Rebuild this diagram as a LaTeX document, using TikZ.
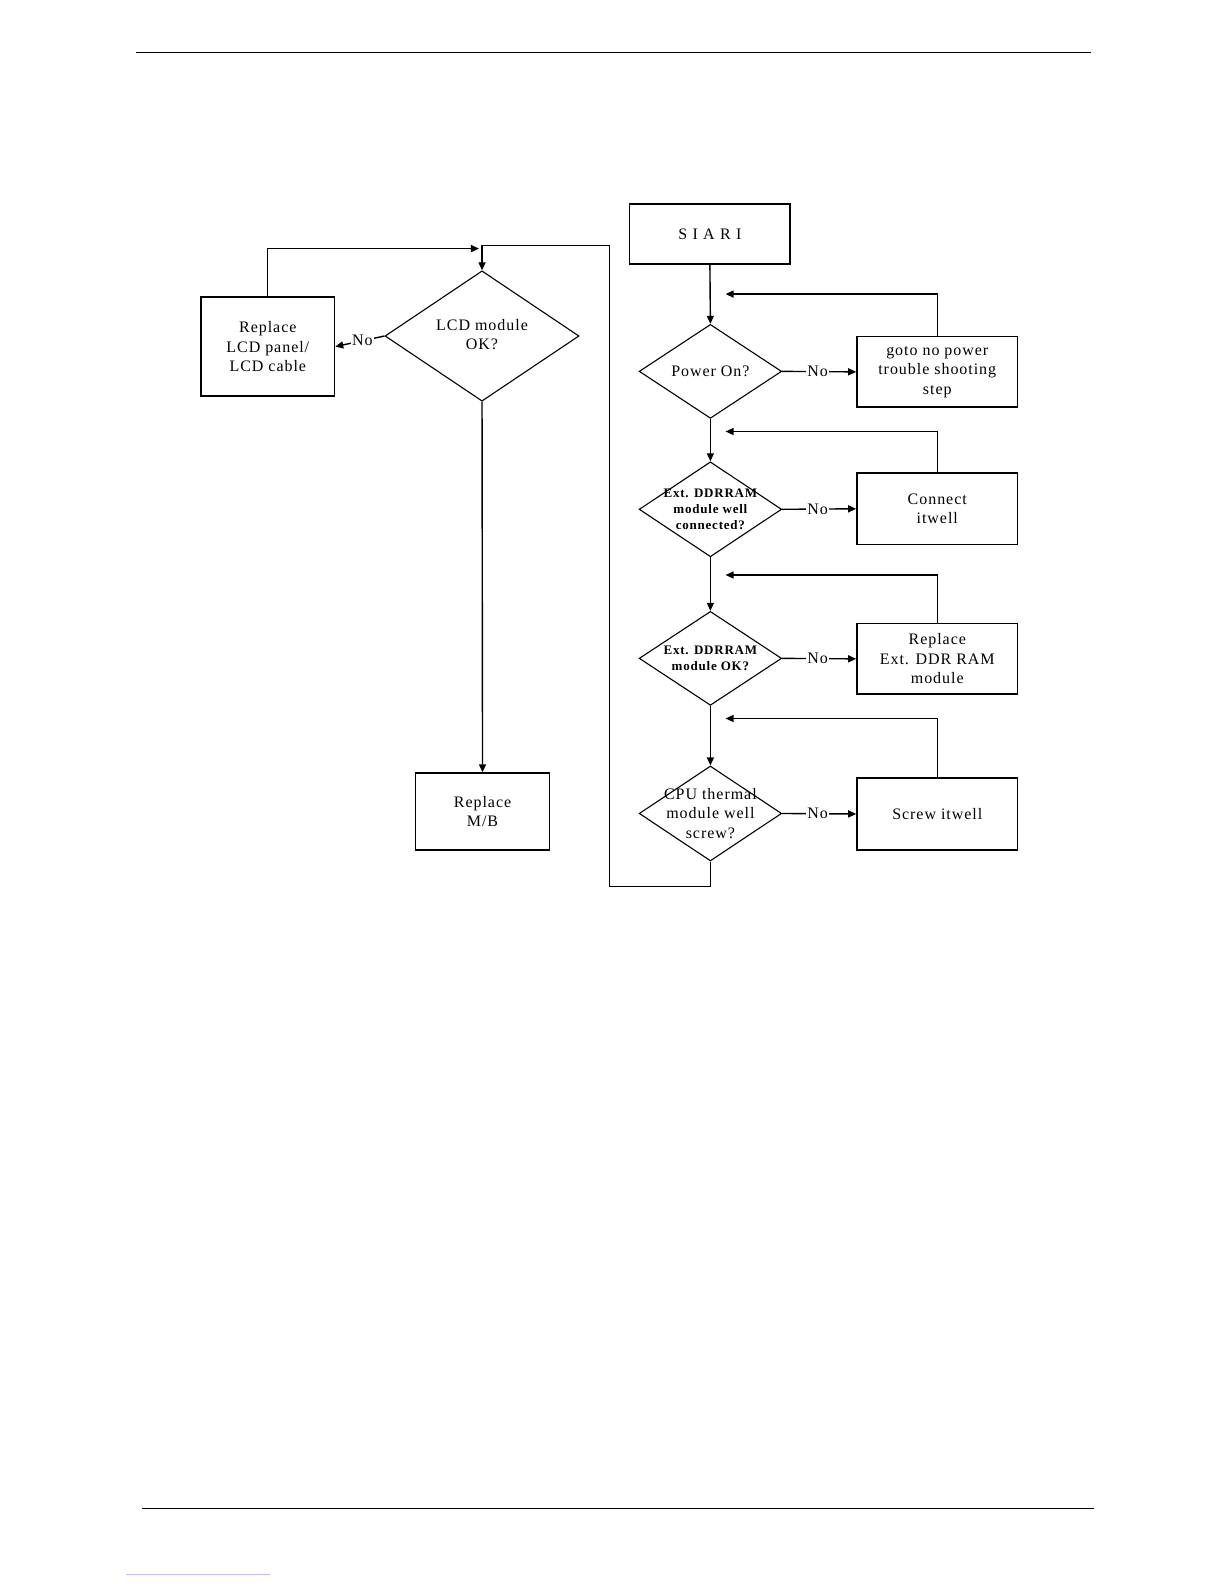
\documentclass[tikz,border=0pt]{standalone}
\usepackage{fontspec}
\setmainfont{Liberation Serif}[LetterSpace=6]
\newfontfamily\plainserif{Liberation Serif}
\usetikzlibrary{shapes.geometric,arrows.meta}
\def\sc{1.0105}
\begin{document}
\begin{tikzpicture}[x=1.0105pt,y=-1.0105pt,
  box/.style={draw,line width=1.5pt,rectangle,inner sep=0pt,align=center,font=\fontsize{16}{19.5}\selectfont},
  dia/.style={draw,line width=1.1pt,diamond,inner sep=0pt},
  dtext/.style={align=center,font=\fontsize{16}{19.5}\selectfont},
  stext/.style={align=center,font=\fontsize{13}{16}\selectfont\bfseries},
  con/.style={line width=1.4pt},
  arr/.style={con,-{Triangle[length=8pt,width=7pt]}},
  nolab/.style={fill=white,inner sep=1pt,font=\fontsize{16}{18}\selectfont}]
\useasboundingbox (0,0) rectangle (1211.3,1567.5);
\fill[white] (0,0) rectangle (1211.3,1567.5);
% header/footer rules
\coordinate (h1) at (135,52); \coordinate (h2) at (1080,52);
\draw[line width=1.4pt] (h1) -- (h2);
\coordinate (f1) at (141,1493); \coordinate (f2) at (1083,1493);
\draw[line width=1.4pt] (f1) -- (f2);
\coordinate (b1) at (125,1558); \coordinate (b2) at (267,1558);
\draw[line width=0.6pt,blue!25] (b1) -- (b2);

% right column
\node[box,minimum width=\sc*159pt,minimum height=\sc*59pt] (start) at (702.5,231.5) {S\,\,I\,\,A\,\,R\,\,I};
\node[dia,minimum width=\sc*141pt,minimum height=\sc*93pt] (d1) at (703,367.5) {};
\node[dtext] at (d1) {Power On?};
\node[box,minimum width=\sc*159pt,minimum height=\sc*70pt] (b1x) at (927.5,368) {goto no power\\trouble shooting\\step};

\node[dia,minimum width=\sc*141pt,minimum height=\sc*94pt] (d2) at (703,504) {};
\node[stext] at (d2) {Ext. DDRRAM\\module well\\connected?};
\node[box,minimum width=\sc*159pt,minimum height=\sc*71pt] (b2x) at (927.5,503.5) {Connect\\itwell};

\node[dia,minimum width=\sc*141pt,minimum height=\sc*93pt] (d3) at (703,651.5) {};
\node[stext] at (d3) {Ext. DDRRAM\\module OK?};
\node[box,minimum width=\sc*159pt,minimum height=\sc*70pt] (b3x) at (927.5,652) {Replace\\Ext. DDR RAM\\module};

\node[dia,minimum width=\sc*141pt,minimum height=\sc*94pt] (d4) at (703,805) {};
\node[dtext] at (d4) {CPU thermal\\module well\\screw?};
\node[box,minimum width=\sc*159pt,minimum height=\sc*71pt] (b4x) at (927.5,805.5) {Screw itwell};

% left column
\node[dia,minimum width=\sc*192pt,minimum height=\sc*129pt] (lcd) at (477,332.5) {};
\node[dtext] at (477,331) {LCD module\\OK?};
\node[box,minimum width=\sc*132pt,minimum height=\sc*98pt] (rlcd) at (265,343) {Replace\\LCD panel/\\LCD cable};
\node[box,minimum width=\sc*133pt,minimum height=\sc*76pt] (mb) at (477.5,803) {Replace\\M/B};

% main flow
\draw[arr] (start.south) -- (d1.north);
\draw[arr] (d1.south) -- (d2.north);
\draw[arr] (d2.south) -- (d3.north);
\draw[arr] (d3.south) -- (d4.north);

% No branches
\draw[arr] (d1.east) -- node[nolab,pos=0.48]{No} (b1x.west);
\draw[arr] (d2.east) -- node[nolab,pos=0.48]{No} (b2x.west);
\draw[arr] (d3.east) -- node[nolab,pos=0.48]{No} (b3x.west);
\draw[arr] (d4.east) -- node[nolab,pos=0.48]{No} (b4x.west);

% returns
\coordinate (r1) at (718,291);
\draw[arr] (b1x.north) |- (r1);
\coordinate (r2) at (718,427);
\draw[arr] (b2x.north) |- (r2);
\coordinate (r3) at (718,569);
\draw[arr] (b3x.north) |- (r3);
\coordinate (r4) at (718,711);
\draw[arr] (b4x.north) |- (r4);

% loop back to LCD
\draw[arr] (d4.south) -- (703,877) -- (603,877) -- (603,243) -- (477,243) -- (lcd.north);

% LCD branches
\draw[arr] (lcd.west) -- node[nolab,pos=0.45]{No} (rlcd.east);
\coordinate (rl) at (474,246);
\draw[arr] (rlcd.north) |- (rl);
\draw[arr] (lcd.south) -- (mb.north);
\end{tikzpicture}
\end{document}
